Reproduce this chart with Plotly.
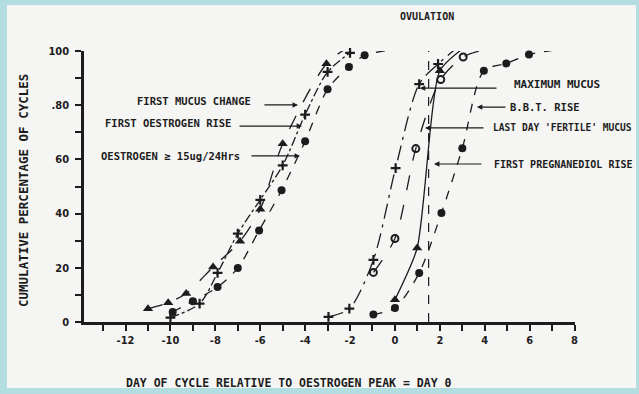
import plotly.graph_objects as go

# ---- data ----
fmc_x = [-11, -10.1, -9.3, -8.1, -6.9, -6.0, -5.0, -3.05, -2.05]
fmc_y = [4.9, 7.1, 10.5, 20.3, 29.8, 41.6, 65.8, 95.3, 101.5]

for_x = [-10.0, -8.7, -7.9, -7.0, -6.0, -5.0, -4.0, -3.0, -2.0]
for_y = [1.6, 6.8, 18.1, 32.6, 45.1, 57.8, 76.5, 92.3, 99.3]

oes_x = [-9.9, -9.0, -7.9, -7.0, -6.05, -5.05, -4.0, -3.0, -2.05, -1.35, -0.3]
oes_y = [3.7, 7.7, 12.9, 19.9, 33.8, 48.6, 66.7, 85.9, 94.1, 98.4, 100.2]

mm_x = [-2.96, -2.03, -0.96, 0.03, 1.08, 1.92, 2.81]
mm_y = [1.9, 4.9, 22.9, 56.8, 87.8, 95.2, 101.5]

ldfm_x = [-0.96, 0.0, 0.93, 2.04, 3.04, 4.0]
ldfm_y = [18.3, 30.8, 64.0, 89.5, 97.8, 100.5]

bbt_x = [0.0, 0.99, 2.0, 3.04]
bbt_y = [8.2, 27.3, 92.7, 101.0]

fpr_x = [-0.96, 0.0, 1.08, 2.07, 3.0, 3.96, 4.96, 5.97, 7.07]
fpr_y = [2.8, 5.2, 18.1, 40.2, 64.1, 92.7, 95.4, 98.7, 100.3]

x_ticks = list(range(-13, 9))
x_labels = [str(v) if v % 2 == 0 and v >= -12 else "" for v in x_ticks]
y_ticks = list(range(0, 101, 10))
y_labels = ["0", "", "20", "", "40", "", "60", "", ".80", "", "100"]

OVULATION_DAY = 1.5

INK = "#1c1c1c"
PAPER = "#f5f5f3"
BORDER = "#b3dde1"
MONO = "DejaVu Sans Mono, Liberation Mono, monospace"
COND = "DejaVu Sans Condensed, Liberation Sans Narrow, DejaVu Sans, sans-serif"

fig = go.Figure()

def add_series(xs, ys, symbol, size, dash, lw_marker=0, smooth=0.8):
    marker = dict(symbol=symbol, size=size, color=INK,
                  line=dict(color=INK, width=lw_marker))
    fig.add_trace(go.Scatter(x=xs, y=ys, mode="lines+markers",
                             line=dict(color=INK, width=1.3, dash=dash,
                                       shape="spline", smoothing=smooth),
                             marker=marker, cliponaxis=False,
                             showlegend=False, hoverinfo="skip"))

add_series(fmc_x, fmc_y, "triangle-up", 9, "longdash")
add_series(for_x, for_y, "cross-thin", 7, "dashdot", 2.2)
add_series(oes_x, oes_y, "circle", 8, "dash")
add_series(mm_x, mm_y, "cross-thin", 7, "longdashdot", 2.2)
add_series(ldfm_x, ldfm_y, "circle-open", 7, "longdash", 2.0)
add_series(bbt_x, bbt_y, "triangle-up", 9, "solid", 0, 0.6)
add_series(fpr_x, fpr_y, "circle", 8, "dash")

# paper + border
shapes = [
    dict(type="rect", xref="paper", yref="paper",
         x0=(7 - 84) / 491, x1=(636 - 84) / 491,
         y0=(322 - 388) / 271, y1=(322 - 5) / 271,
         fillcolor=PAPER, line=dict(width=0), layer="below"),
    dict(type="line", xref="x", yref="y", x0=OVULATION_DAY, x1=OVULATION_DAY,
         y0=0, y1=107, line=dict(color=INK, width=1.2, dash="dash")),
]

ann = []
def label(text, x, y, anchor, size=10.5):
    ann.append(dict(x=x, y=y, xref="x", yref="y", text="<b>%s</b>" % text,
                    showarrow=False, xanchor=anchor, yanchor="middle",
                    font=dict(family=MONO, size=size, color=INK)))

def arrow(hx, hy, tx):
    ann.append(dict(x=hx, y=hy, ax=tx, ay=hy, xref="x", yref="y",
                    axref="x", ayref="y", text="", showarrow=True,
                    arrowhead=2, arrowsize=0.9, arrowwidth=1.2,
                    arrowcolor=INK, standoff=0))

label("FIRST MUCUS CHANGE", -6.33, 81.5, "right")
arrow(-4.32, 80.1, -5.88)
label("FIRST OESTROGEN RISE", -7.22, 73.4, "right")
arrow(-4.14, 72.3, -6.99)
label("OESTROGEN \u2265 15ug/24Hrs", -6.82, 61.3, "right")
arrow(-4.23, 61.3, -6.46)

label("MAXIMUM MUCUS", 5.21, 87.5, "left", 11)
arrow(1.11, 86.3, 4.59)
label("B.B.T. RISE", 5.03, 79.3, "left")
arrow(3.65, 79.3, 4.99)
label("LAST DAY 'FERTILE' MUCUS", 4.3, 71.6, "left", 9.6)
arrow(1.34, 71.6, 4.01)
label("FIRST PREGNANEDIOL RISE", 4.32, 58.3, "left", 10)
arrow(1.74, 58.3, 3.92)

ann.append(dict(x=(427 - 84) / 491, y=(322 - 17) / 271, xref="paper", yref="paper",
                text="<b>OVULATION</b>", showarrow=False, xanchor="center",
                yanchor="middle", font=dict(family=MONO, size=10, color=INK)))
ann.append(dict(x=(288 - 84) / 491, y=(322 - 383) / 271, xref="paper", yref="paper",
                text="<b>DAY OF CYCLE RELATIVE TO OESTROGEN PEAK = DAY 0</b>",
                showarrow=False, xanchor="center", yanchor="middle",
                font=dict(family=MONO, size=11.5, color=INK)))
ann.append(dict(x=(23 - 84) / 491, y=(322 - 191) / 271, xref="paper", yref="paper",
                text="<b>CUMULATIVE PERCENTAGE OF CYCLES</b>", textangle=-90,
                showarrow=False, xanchor="center", yanchor="middle",
                font=dict(family=MONO, size=12.5, color=INK)))

fig.update_layout(
    width=639, height=394,
    margin=dict(l=84, r=64, t=51, b=72),
    paper_bgcolor=BORDER, plot_bgcolor="rgba(0,0,0,0)",
    shapes=shapes, annotations=ann,
)
fig.update_xaxes(range=[-13.85, 8.02], tickvals=x_ticks, ticktext=x_labels,
                 ticks="outside", ticklen=6, tickwidth=2, tickcolor=INK,
                 showline=True, linewidth=2.5, linecolor=INK, showgrid=False,
                 zeroline=False,
                 tickfont=dict(family=COND, size=11, color=INK, weight="bold"))
fig.update_yaxes(range=[0, 100], tickvals=y_ticks, ticktext=y_labels,
                 ticks="outside", ticklen=6, tickwidth=2, tickcolor=INK,
                 showline=True, linewidth=2.5, linecolor=INK, showgrid=False,
                 zeroline=False, ticklabelstandoff=4,
                 tickfont=dict(family=COND, size=11, color=INK, weight="bold"))

fig.write_html("out.html", config={"displayModeBar": False},
               post_script="document.body.style.margin='0';"
                           "document.body.style.overflow='hidden';")
